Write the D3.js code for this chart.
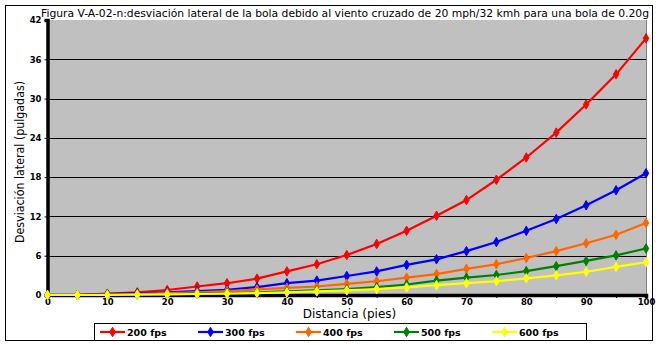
<!DOCTYPE html>
<html>
<head>
<meta charset="utf-8">
<script src="https://cdn.jsdelivr.net/npm/d3@7"></script>
<style>
  html, body { margin: 0; padding: 0; background: #fff; }
  svg { display: block; }
</style>
</head>
<body>
<svg id="chart" width="660" height="345"></svg>
<script>
// Distances in feet along the x axis
const distances = [0,5,10,15,20,25,30,35,40,45,50,55,60,65,70,75,80,85,90,95,100];

// Lateral deviation (inches) for each ball speed
const fps200 = [0,0,0.2,0.4,0.76,1.3,1.8,2.5,3.6,4.7,6.1,7.8,9.8,12.1,14.5,17.6,21.0,24.8,29.1,33.7,39.2];
const fps300 = [0,0,0.15,0.25,0.4,0.6,0.8,1.2,1.8,2.2,2.9,3.6,4.6,5.45,6.7,8.1,9.8,11.6,13.7,16.0,18.6];
const fps400 = [0,0,0.1,0.15,0.3,0.4,0.6,0.85,1.1,1.3,1.7,2.1,2.65,3.2,4.0,4.7,5.65,6.7,7.9,9.2,11.0];
const fps500 = [0,0,0.05,0.05,0.1,0.2,0.3,0.4,0.55,0.7,0.9,1.2,1.6,2.2,2.65,3.05,3.65,4.4,5.2,6.05,7.1];
const fps600 = [0,0,0,0.05,0.1,0.15,0.2,0.3,0.4,0.55,0.7,0.9,1.15,1.5,1.8,2.1,2.55,3.0,3.55,4.3,5.0];

const seriesNames = ["200 fps","300 fps","400 fps","500 fps","600 fps"];
const seriesColors = ["#ff0000","#0000ff","#ff6600","#008000","#ffff00"];
const seriesValues = [fps200, fps300, fps400, fps500, fps600];

const yTicks = [0,6,12,18,24,30,36,42];
const xTicks = [0,5,10,15,20,25,30,35,40,45,50,55,60,65,70,75,80,85,90,95,100];

const titleText = "Figura V-A-02-n:desviación lateral de la bola debido al viento cruzado de 20 mph/32 kmh para una bola de 0.20g";
const xLabel = "Distancia (pies)";
const yLabel = "Desviación lateral (pulgadas)";

const svg = d3.select("#chart");

const plot = { left: 47.5, right: 646, top: 20, bottom: 295 };
const x = d3.scaleLinear().domain([0, 100]).range([plot.left, plot.right]);
const y = d3.scaleLinear().domain([0, 42]).range([plot.bottom, plot.top]);

// Outer frame
svg.append("rect")
  .attr("x", 5.5).attr("y", 5.5).attr("width", 647).attr("height", 335)
  .attr("fill", "#fff").attr("stroke", "#000").attr("stroke-width", 1);

// Plot background
svg.append("rect")
  .attr("x", plot.left).attr("y", plot.top)
  .attr("width", plot.right - plot.left).attr("height", plot.bottom - plot.top)
  .attr("fill", "#c0c0c0");

// Right edge of plot area
svg.append("line")
  .attr("x1", plot.right + 0.5).attr("x2", plot.right + 0.5)
  .attr("y1", plot.top).attr("y2", plot.bottom)
  .attr("stroke", "#808080").attr("stroke-width", 1);

// Horizontal gridlines
svg.append("g")
  .selectAll("line")
  .data(yTicks.filter(v => v > 0 && v < 42))
  .join("line")
  .attr("x1", plot.left).attr("x2", plot.right)
  .attr("y1", d => Math.round(y(d)) + 0.5).attr("y2", d => Math.round(y(d)) + 0.5)
  .attr("stroke", "#000").attr("stroke-width", 1);

// Axes
const yAxis = svg.append("g")
  .attr("transform", `translate(${plot.left},0)`)
  .call(d3.axisLeft(y).tickValues(yTicks).tickSize(3).tickPadding(3).tickFormat(d3.format("d")));
yAxis.select(".domain").attr("stroke", "#000").attr("stroke-width", 3.5);
yAxis.selectAll("text")
  .attr("font-family", "DejaVu Sans, Verdana, sans-serif")
  .attr("font-weight", "bold").attr("font-size", 8.5).attr("fill", "#000");

const xAxis = svg.append("g")
  .attr("transform", `translate(0,${plot.bottom})`)
  .call(d3.axisBottom(x).tickValues(xTicks).tickSize(3).tickPadding(1)
    .tickFormat(d => d % 10 === 0 ? d3.format("d")(d) : ""));
xAxis.select(".domain").attr("stroke", "#000").attr("stroke-width", 3.5);
xAxis.selectAll("text")
  .attr("font-family", "DejaVu Sans, Verdana, sans-serif")
  .attr("font-weight", "bold").attr("font-size", 8.5).attr("fill", "#000");

// Series lines and markers
const line = d3.line().x((d, i) => x(distances[i])).y(d => y(d));
const diamond = d3.symbol().type(d3.symbolDiamond).size(26);

seriesValues.forEach((vals, si) => {
  const g = svg.append("g");
  g.append("path")
    .datum(vals)
    .attr("d", line)
    .attr("fill", "none")
    .attr("stroke", seriesColors[si])
    .attr("stroke-width", 2.2);
  g.selectAll("path.m")
    .data(vals)
    .join("path")
    .attr("class", "m")
    .attr("d", diamond)
    .attr("transform", (d, i) => `translate(${x(distances[i])},${y(d)})`)
    .attr("fill", seriesColors[si])
    .attr("stroke", seriesColors[si])
    .attr("stroke-width", 1);
});

// Title
svg.append("text")
  .attr("x", 41).attr("y", 17)
  .attr("font-family", "DejaVu Sans, Verdana, sans-serif")
  .attr("font-size", 11)
  .attr("textLength", 608).attr("lengthAdjust", "spacingAndGlyphs")
  .attr("fill", "#000")
  .text(titleText);

// Axis titles
svg.append("text")
  .attr("x", 349.5).attr("y", 318)
  .attr("text-anchor", "middle")
  .attr("font-family", "DejaVu Sans, Verdana, sans-serif")
  .attr("font-size", 12)
  .attr("fill", "#000")
  .text(xLabel);

svg.append("text")
  .attr("transform", "translate(24,162) rotate(-90)")
  .attr("text-anchor", "middle")
  .attr("font-family", "DejaVu Sans, Verdana, sans-serif")
  .attr("font-size", 12)
  .attr("textLength", 162).attr("lengthAdjust", "spacingAndGlyphs")
  .attr("fill", "#000")
  .text(yLabel);

// Legend
svg.append("rect")
  .attr("x", 94.5).attr("y", 323.5).attr("width", 492).attr("height", 17)
  .attr("fill", "#fff").attr("stroke", "#000").attr("stroke-width", 1);

const legend = svg.append("g");
seriesNames.forEach((name, i) => {
  const lx = 100 + i * 98;
  const ly = 332;
  legend.append("line")
    .attr("x1", lx).attr("x2", lx + 25).attr("y1", ly).attr("y2", ly)
    .attr("stroke", seriesColors[i]).attr("stroke-width", 2.2);
  legend.append("path")
    .attr("d", diamond)
    .attr("transform", `translate(${lx + 12.5},${ly})`)
    .attr("fill", seriesColors[i]).attr("stroke", seriesColors[i]);
  legend.append("text")
    .attr("x", lx + 27).attr("y", ly + 3.5)
    .attr("font-family", "DejaVu Sans, Verdana, sans-serif")
    .attr("font-weight", "bold").attr("font-size", 9.5)
    .attr("fill", "#000")
    .text(name);
});
</script>
</body>
</html>
